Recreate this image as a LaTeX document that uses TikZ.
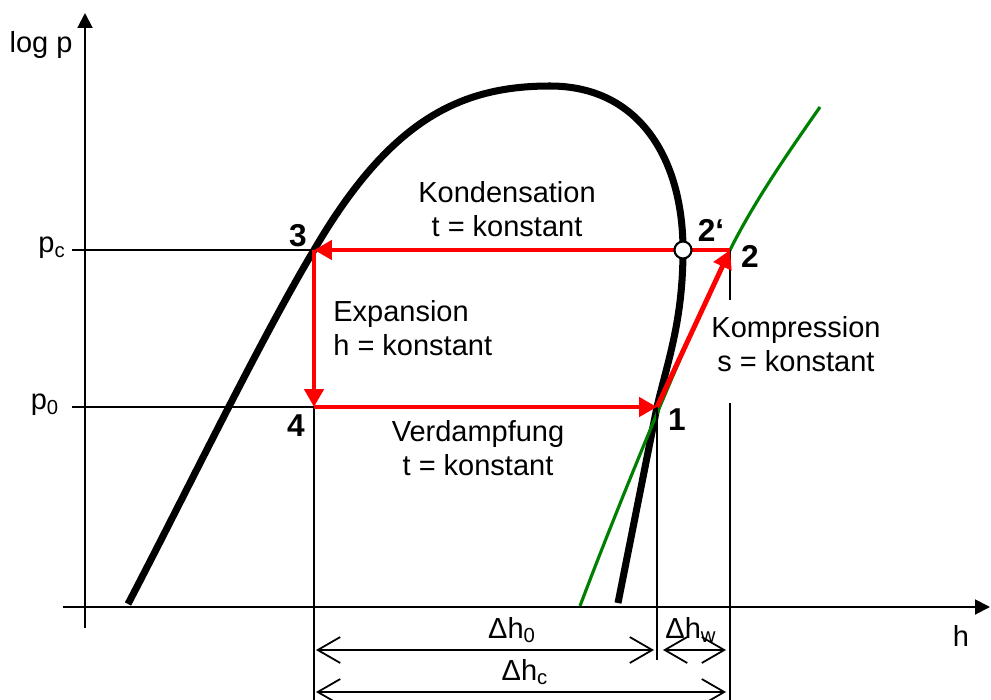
\documentclass[tikz,border=0pt]{standalone}
\usepackage{fontspec}
\setmainfont{Liberation Sans}
\usetikzlibrary{arrows.meta}
\definecolor{redline}{HTML}{FF0000}
\definecolor{isogreen}{HTML}{008000}

\begin{document}
\begin{tikzpicture}[x=0.02cm,y=-0.02cm,
    lbl/.style={font=\fontsize{16.5}{19.3}\selectfont,align=center},
    num/.style={font=\fontsize{18}{20}\selectfont\bfseries},
    guide/.style={line width=1pt},
    axis/.style={line width=1.1pt,-{Triangle[length=3mm,width=3mm]}},
    dim/.style={line width=1pt,{Straight Barb[length=4.5mm,width=5.2mm]}-{Straight Barb[length=4.5mm,width=5.2mm]}},
    cyc/.style={redline,line width=2.8pt,-{Triangle[length=3.6mm,width=3.8mm]}}]
  \useasboundingbox (0,0) rectangle (991,700);

  % points of the cycle
  \coordinate (p1) at (657,407);
  \coordinate (p2) at (730,250);
  \coordinate (p2s) at (683,250);
  \coordinate (p3) at (314,250);
  \coordinate (p4) at (314,407);

  % axes
  \coordinate (ya) at (85,628);
  \coordinate (yb) at (85,13);
  \coordinate (xa) at (63,607);
  \coordinate (xb) at (990,607);
  \draw[axis] (ya) -- (yb);
  \draw[axis] (xa) -- (xb);

  % saturation curve and isentrope
  \draw[line width=4pt] (128,604) .. controls (185,495) and (260,340) .. (p3)
    .. controls (390,120) and (460,86) .. (550,86)
    .. controls (640,86) and (683,160) .. (p2s)
    .. controls (683,320) and (668,360) .. (p1) -- (618,603);
  \draw[isogreen,line width=1.8pt] (580,606) .. controls (620,500) and (690,330) .. (p2)
    .. controls (755,200) and (790,150) .. (820,107);

  % guide lines
  \coordinate (gc) at (72,250);
  \coordinate (g0) at (72,407);
  \coordinate (b4) at (314,700);
  \coordinate (b1) at (657,660);
  \coordinate (t2) at (730,300);
  \coordinate (m2) at (730,403);
  \coordinate (b2) at (730,700);
  \draw[guide] (gc) -- (p3);
  \draw[guide] (g0) -- (p4);
  \draw[guide] (p4) -- (b4);
  \draw[guide] (p1) -- (b1);
  \draw[guide] (p2) -- (t2);
  \draw[guide] (m2) -- (b2);

  % dimension arrows
  \coordinate (d0a) at (316,650);
  \coordinate (d0b) at (654,650);
  \coordinate (dwa) at (663,650);
  \coordinate (dwb) at (726,650);
  \coordinate (dca) at (316,692);
  \coordinate (dcb) at (726,692);
  \draw[dim] (d0a) -- (d0b);
  \draw[dim] (dwa) -- (dwb);
  \draw[dim] (dca) -- (dcb);

  % cycle
  \draw[cyc] (p3) -- (p4);
  \draw[cyc] (p4) -- (p1);
  \draw[cyc] (p1) -- (p2);
  \draw[cyc] (p2) -- (p3);
  \node[circle,draw,fill=white,line width=1.2pt,minimum size=0.34cm,inner sep=0pt] (c2s) at (p2s) {};

  % labels
  \node[lbl] (lp) at (41,45) {log p};
  \node[lbl] (lpc) at (52,248) {p\textsubscript{c}};
  \node[lbl] (lp0) at (45,405) {p\textsubscript{0}};
  \node[lbl] (lh) at (961,636) {h};
  \node[num] (n1) at (677,420) {1};
  \node[num] (n2) at (750,256) {2};
  \node[num] (n2s) at (711,230) {2‘};
  \node[num] (n3) at (298,236) {3};
  \node[num] (n4) at (296,426) {4};
  \node[lbl] (kond) at (507,209) {Kondensation\\t = konstant};
  \node[lbl,align=left,anchor=west,inner sep=0pt] (expa) at (333,328) {Expansion\\h = konstant};
  \node[lbl] (verd) at (478,448) {Verdampfung\\t = konstant};
  \node[lbl] (komp) at (796,344) {Kompression\\s = konstant};
  \node[lbl] (dh0) at (512,630) {Δh\textsubscript{0}};
  \node[lbl] (dhw) at (691,630) {Δh\textsubscript{w}};
  \node[lbl] (dhc) at (525,672) {Δh\textsubscript{c}};
\end{tikzpicture}
\end{document}
